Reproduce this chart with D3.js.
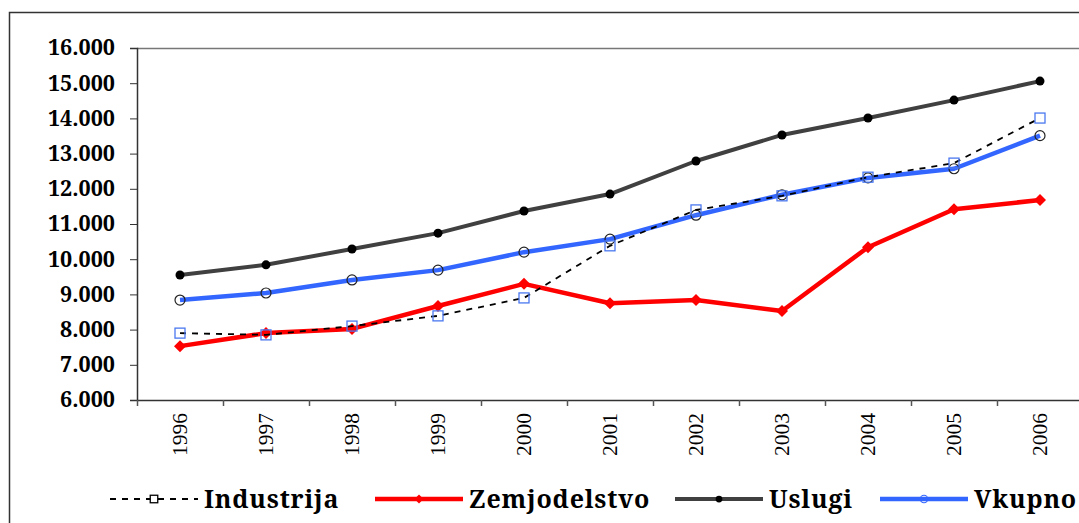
<!DOCTYPE html>
<html>
<head>
<meta charset="utf-8">
<script src="https://cdn.jsdelivr.net/npm/d3@7"></script>
<style>
  body { margin: 0; background: #fff; }
  svg { display: block; }
</style>
</head>
<body>
<div id="chart"></div>
<script>
// data
const years = ["1996", "1997", "1998", "1999", "2000", "2001", "2002", "2003", "2004", "2005", "2006"];
const industrija = [7900, 7850, 8100, 8390, 8900, 10380, 11400, 11800, 12330, 12730, 14010];
const zemjodelstvo = [7530, 7900, 8020, 8670, 9300, 8750, 8840, 8530, 10340, 11420, 11680];
const uslugi = [9550, 9840, 10290, 10740, 11370, 11850, 12790, 13530, 14010, 14520, 15060];
const vkupno = [8840, 9040, 9410, 9690, 10200, 10570, 11250, 11830, 12310, 12570, 13510];
const yTicks = [6000, 7000, 8000, 9000, 10000, 11000, 12000, 13000, 14000, 15000, 16000];

let w = 1079;
let h = 523;
let padLeft = 137, padTop = 48, plotBottom = 400, plotRight = 1083;
let boldFont = "Noto Serif";

let svg = d3.select("#chart")
            .append("svg")
            .attr("width", w)
            .attr("height", h);

// outer chart frame
svg.append("rect")
    .attr("x", 9.5)
    .attr("y", 12.5)
    .attr("width", 1100)
    .attr("height", 600)
    .attr("fill", "none")
    .attr("stroke", "#333")
    .attr("stroke-width", 1.5);

let xScale = d3.scaleBand()
                .domain(years)
                .range([padLeft, plotRight]);

let yScale = d3.scaleLinear()
                .domain([6000, 16000])
                .range([plotBottom, padTop]);

// plot frame top line
svg.append("line")
    .attr("x1", padLeft).attr("x2", w)
    .attr("y1", padTop + 0.5).attr("y2", padTop + 0.5)
    .attr("stroke", "#777")
    .attr("stroke-width", 1.5);

let yAxis = d3.axisLeft(yScale)
                .tickValues(yTicks)
                .tickSize(7)
                .tickPadding(15)
                .tickFormat(d => (d / 1000) + ".000");

svg.append("g")
    .attr("class", "axis-y")
    .attr("transform", `translate(${padLeft}, 0)`)
    .attr("color", "#333")
    .call(yAxis)
    .call(g => g.select(".domain").attr("stroke-width", 1.5))
    .selectAll("text")
    .attr("font-family", boldFont)
    .attr("font-weight", "bold")
    .attr("font-size", "21.5px")
    .attr("fill", "#000");

let xAxis = d3.axisBottom(xScale).tickSize(0).tickFormat("");

let gx = svg.append("g")
    .attr("class", "axis-x")
    .attr("transform", `translate(0, ${plotBottom})`)
    .attr("color", "#333")
    .call(xAxis);
gx.select(".domain").attr("stroke-width", 1.5);

// ticks between categories
gx.selectAll("line.sep")
    .data(years)
    .enter()
    .append("line")
    .attr("class", "sep")
    .attr("x1", d => xScale(d) + 0.5)
    .attr("x2", d => xScale(d) + 0.5)
    .attr("y1", 0)
    .attr("y2", 6)
    .attr("stroke", "#555")
    .attr("stroke-width", 1.5);

svg.append("g")
    .selectAll("text")
    .data(years)
    .enter()
    .append("text")
    .attr("transform", d => `translate(${xScale(d) + xScale.bandwidth() / 2 + 7}, 413) rotate(-90)`)
    .attr("text-anchor", "end")
    .attr("font-family", "Liberation Serif")
    .attr("font-size", "21.5px")
    .attr("fill", "#000")
    .text(d => d);

let cx = i => xScale(years[i]) + xScale.bandwidth() / 2;

let line = d3.line()
            .x((d, i) => cx(i))
            .y(d => yScale(d));

let series = [
    { name: "Industrija", values: industrija, color: "#000", width: 1.8, dash: "6,6", marker: "square" },
    { name: "Zemjodelstvo", values: zemjodelstvo, color: "#ff0000", width: 4.5, dash: null, marker: "diamond" },
    { name: "Uslugi", values: uslugi, color: "#404040", width: 4, dash: null, marker: "dot" },
    { name: "Vkupno", values: vkupno, color: "#3366ff", width: 4.5, dash: null, marker: "circle" }
];

let drawMarker = (g, type, x, y, small) => {
    let s = small ? 0.75 : 1;
    if (type === "square") {
        g.append("rect")
            .attr("x", x - 5 * s).attr("y", y - 5 * s)
            .attr("width", 10 * s).attr("height", 10 * s)
            .attr("fill", small ? "#fff" : "none")
            .attr("stroke", small ? "#000" : "#4a78f0")
            .attr("stroke-width", 1.3);
    } else if (type === "diamond") {
        g.append("path")
            .attr("d", `M${x},${y - 6 * s}L${x + 6 * s},${y}L${x},${y + 6 * s}L${x - 6 * s},${y}Z`)
            .attr("fill", "#ff0000");
    } else if (type === "dot") {
        g.append("circle")
            .attr("cx", x).attr("cy", y).attr("r", 4.5 * s)
            .attr("fill", "#000");
    } else {
        g.append("circle")
            .attr("cx", x).attr("cy", y).attr("r", 5 * s)
            .attr("fill", "none")
            .attr("stroke", small ? "#3366ff" : "#222")
            .attr("stroke-width", 1.2);
    }
};

// draw order: vkupno, uslugi, zemjodelstvo, industrija on top
[3, 2, 1, 0].forEach(k => {
    let s = series[k];
    let g = svg.append("g");
    g.append("path")
        .datum(s.values)
        .attr("d", line)
        .attr("fill", "none")
        .attr("stroke", s.color)
        .attr("stroke-width", s.width)
        .attr("stroke-dasharray", s.dash)
        .attr("stroke-linejoin", "round");
    s.values.forEach((v, i) => drawMarker(g, s.marker, cx(i), yScale(v), false));
});

// legend
let legendX = [110, 375, 675, 880];
let ly = 499;
series.forEach((s, i) => {
    let g = svg.append("g");
    let x0 = legendX[i];
    g.append("line")
        .attr("x1", x0).attr("x2", x0 + 88)
        .attr("y1", ly).attr("y2", ly)
        .attr("stroke", s.color)
        .attr("stroke-width", s.dash ? 1.8 : s.width)
        .attr("stroke-dasharray", s.dash);
    drawMarker(g, s.marker, x0 + 44, ly, true);
    g.append("text")
        .attr("x", x0 + 94)
        .attr("y", ly + 9)
        .attr("font-family", boldFont)
        .attr("font-weight", "bold")
        .attr("font-size", "25px")
        .attr("letter-spacing", "0.8px")
        .attr("fill", "#000")
        .text(s.name);
});
</script>
</body>
</html>
